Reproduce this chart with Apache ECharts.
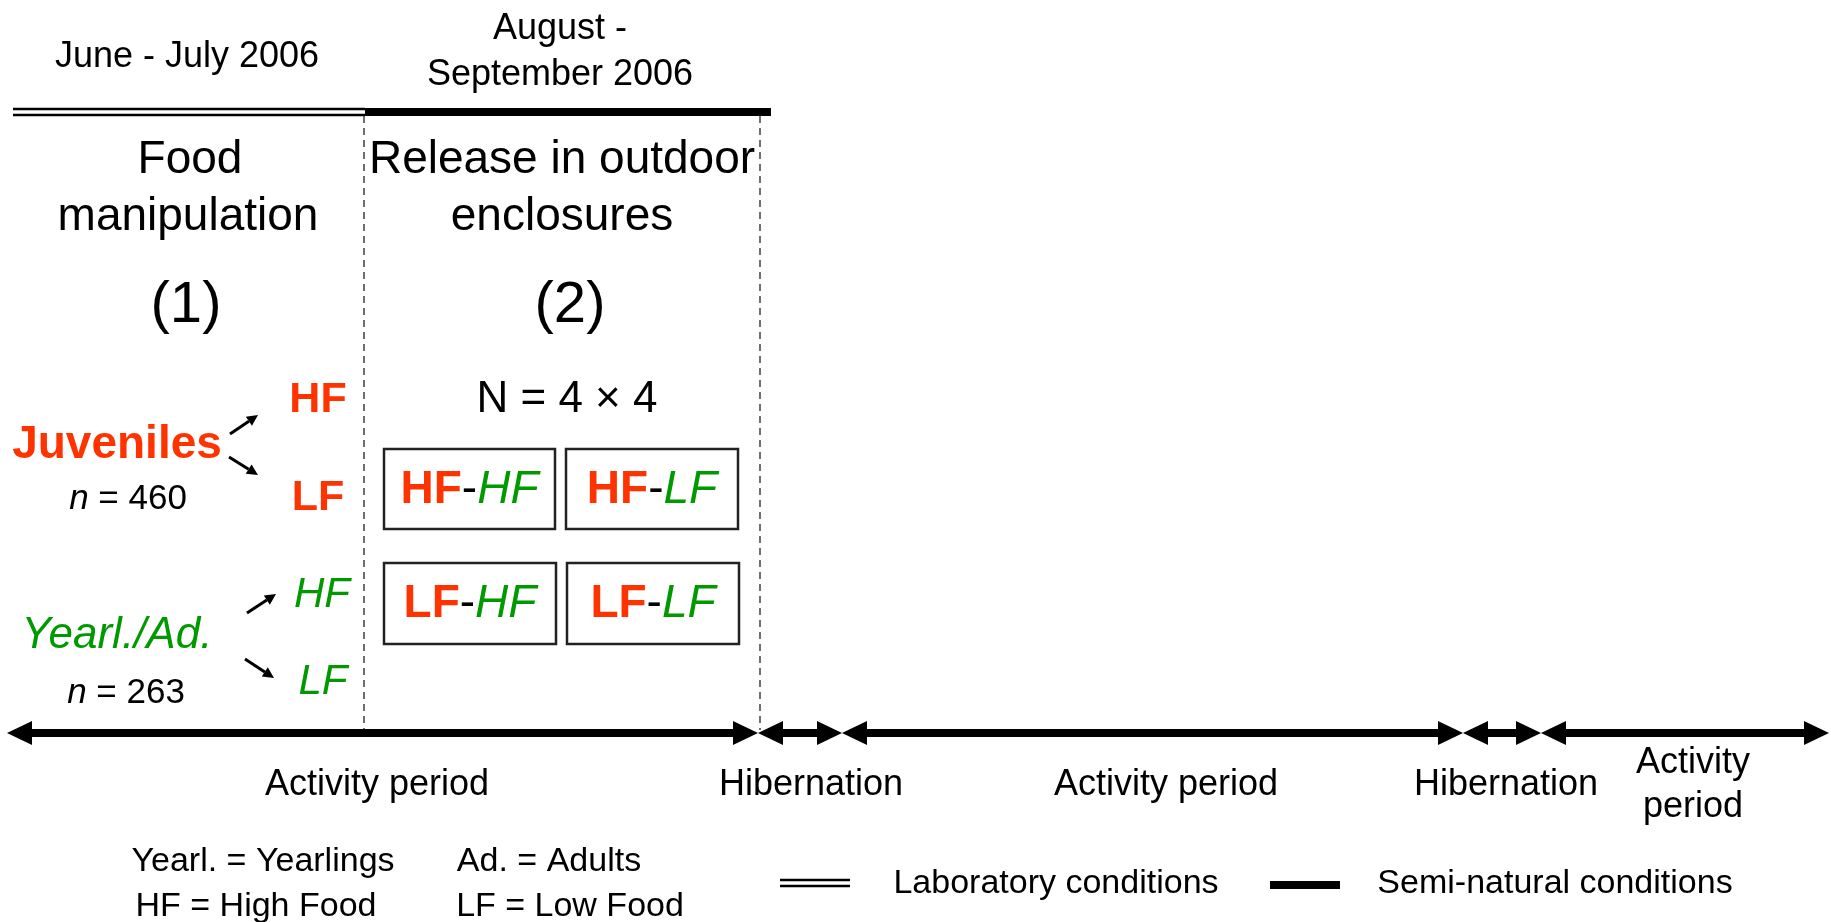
<!DOCTYPE html>
<html>
<head>
<meta charset="utf-8">
<title>Experimental design timeline</title>
<script src="https://cdn.jsdelivr.net/npm/echarts@6/dist/echarts.min.js"></script>
<style>
  html, body { margin: 0; padding: 0; background: #fff; }
  #chart { width: 1831px; height: 922px; }
</style>
</head>
<body>
<div id="chart"></div>
<script>
// diagram space: x 0..1831, y 0..922 (y grows downwards)
var FONT = "'Liberation Sans', Arial, Helvetica, sans-serif";
var RED = '#ff3300', GREEN = '#009a00', INK = '#000';

// text entries: [x centre, baseline, text]
var headings = [
  [187, 67, 'June - July 2006'],
  [560, 39, 'August -'],
  [560, 85, 'September 2006']
];
var stageTitles = [
  [190, 173, 'Food'], [188, 230, 'manipulation'],
  [562, 173, 'Release in outdoor'], [562, 230, 'enclosures']
];
var stageNumbers = [[186, 322, '(1)'], [570, 322, '(2)']];
var groups = [[117, 458, 'Juveniles']];
var adultGroups = [[117, 648, 'Yearl./Ad.']];
var groupCounts = [[128, 509, '{i|n} = 460'], [126, 703, '{i|n} = 263']];
var juvDiets = [[318, 412, 'HF'], [318, 510, 'LF']];
var adultDiets = [[322, 607, 'HF'], [323, 694, 'LF']];
var designLabel = [[567, 412, 'N = 4 \u00d7 4']];

// treatment boxes: [x0, y0, x1, y1], first and second diet
var boxes = [[384, 449, 555, 529], [566, 449, 738, 529], [384, 563, 556, 644], [567, 563, 739, 644]];
var firstDiet = ['HF', 'HF', 'LF', 'LF'];
var secondDiet = ['HF', 'LF', 'HF', 'LF'];

// time line
var timelineY = 733;
var timelineBreaks = [7, 758, 842, 1463, 1541, 1829];
var periodLabels = ['Activity period', 'Hibernation', 'Activity period', 'Hibernation', 'Activity\nperiod'];
var periodLabelX = [377, 811, 1166, 1506, 1693];
var periodBaseline = 795;

// condition bars above the stages + legend swatches: [x0, x1, y, kind]
var conditionBars = [[13, 365, 112, 'lab'], [365, 771, 112, 'semi'], [780, 850, 883, 'lab'], [1270, 1340, 885, 'semi']];
var dividerX = [364, 760];
var dividerSpan = [116, 730];

// small branching arrows: [x0, y0, x1, y1]
var pointers = [[230, 434, 258, 415], [229, 457, 258, 475], [247, 613, 276, 594], [245, 659, 274, 678]];

var legendTexts = [
  [263, 871, 'Yearl. = Yearlings'], [549, 871, 'Ad. = Adults'],
  [256, 916, 'HF = High Food'], [570, 916, 'LF = Low Food'],
  [1056, 893, 'Laboratory conditions'], [1555, 893, 'Semi-natural conditions']
];

function fnt(size, weight, italic, color) {
  return { fontSize: size, fontFamily: FONT, fontWeight: weight || 'normal',
           fontStyle: italic ? 'italic' : 'normal', fill: color || INK };
}

var textStyles = {
  head: fnt(36), title: fnt(46), paren: fnt(58), design: fnt(44),
  juv: fnt(46, 'bold', false, RED), adult: fnt(44, 'normal', true, GREEN),
  redDiet: fnt(43, 'bold', false, RED), greenDiet: fnt(42, 'normal', true, GREEN),
  count: fnt(35), box: fnt(46), period: fnt(36), legend: fnt(34)
};

function tag(list, kind) { return list.map(function (t) { return [t[0], t[1], t[2], kind]; }); }

var allTexts = [].concat(
  tag(headings, 'head'), tag(stageTitles, 'title'), tag(stageNumbers, 'paren'),
  tag(groups, 'juv'), tag(adultGroups, 'adult'), tag(groupCounts, 'count'),
  tag(juvDiets, 'redDiet'), tag(adultDiets, 'greenDiet'), tag(designLabel, 'design'),
  tag(periodLabels.map(function (l, i) { return [periodLabelX[i], periodBaseline, l]; }), 'period'),
  tag(legendTexts, 'legend')
);

var richTokens = {
  i: fnt(35, 'normal', true),
  r: fnt(46, 'bold', false, RED),
  k: fnt(46),
  g: fnt(46, 'normal', true, GREEN)
};

function arrow(a, b, lw, hl, hw, headA, headB) {
  var dx = b[0] - a[0], dy = b[1] - a[1];
  var len = Math.sqrt(dx * dx + dy * dy), ux = dx / len, uy = dy / len;
  var px = -uy, py = ux;
  var s = headA ? [a[0] + ux * hl, a[1] + uy * hl] : a;
  var e = headB ? [b[0] - ux * hl, b[1] - uy * hl] : b;
  var kids = [{ type: 'line', shape: { x1: s[0], y1: s[1], x2: e[0], y2: e[1] },
                style: { stroke: INK, lineWidth: lw } }];
  function head(tip, back) {
    kids.push({ type: 'polygon', shape: { points: [tip,
      [back[0] + px * hw, back[1] + py * hw], [back[0] - px * hw, back[1] - py * hw]] },
      style: { fill: INK } });
  }
  if (headA) head(a, s);
  if (headB) head(b, e);
  return kids;
}

var chart = echarts.init(document.getElementById('chart'));

chart.setOption({
  animation: false,
  grid: { left: 0, right: 0, top: 0, bottom: 0 },
  xAxis: { type: 'value', min: 0, max: 1831, show: false },
  yAxis: { type: 'value', min: 0, max: 922, inverse: true, show: false },
  series: [
    {
      name: 'conditions', type: 'custom',
      data: conditionBars.map(function (b) { return [b[0], b[2], b[1], b[2]]; }),
      renderItem: function (params, api) {
        var p0 = api.coord([api.value(0), api.value(1)]);
        var p1 = api.coord([api.value(2), api.value(3)]);
        if (conditionBars[params.dataIndex][3] === 'semi') {
          return { type: 'line', shape: { x1: p0[0], y1: p0[1], x2: p1[0], y2: p1[1] },
                   style: { stroke: INK, lineWidth: 8 } };
        }
        return { type: 'group', children: [-3, 3].map(function (o) {
          return { type: 'line', shape: { x1: p0[0], y1: p0[1] + o, x2: p1[0], y2: p1[1] + o },
                   style: { stroke: INK, lineWidth: 2.5 } };
        }) };
      }
    },
    {
      name: 'dividers', type: 'custom',
      data: dividerX.map(function (x) { return [x, dividerSpan[0], x, dividerSpan[1]]; }),
      renderItem: function (params, api) {
        var p0 = api.coord([api.value(0), api.value(1)]);
        var p1 = api.coord([api.value(2), api.value(3)]);
        return { type: 'line', shape: { x1: p0[0], y1: p0[1], x2: p1[0], y2: p1[1] },
                 style: { stroke: '#4a4a4a', lineWidth: 1.6, lineDash: [7, 5] } };
      }
    },
    {
      name: 'timeline', type: 'custom',
      data: timelineBreaks.slice(0, -1).map(function (x, i) {
        return [x, timelineY, timelineBreaks[i + 1], timelineY];
      }),
      renderItem: function (params, api) {
        var p0 = api.coord([api.value(0), api.value(1)]);
        var p1 = api.coord([api.value(2), api.value(3)]);
        return { type: 'group', children: arrow(p0, p1, 8, 25, 12, true, true) };
      }
    },
    {
      name: 'pointers', type: 'custom',
      data: pointers,
      renderItem: function (params, api) {
        var p0 = api.coord([api.value(0), api.value(1)]);
        var p1 = api.coord([api.value(2), api.value(3)]);
        return { type: 'group', children: arrow(p0, p1, 3, 11, 5.5, false, true) };
      }
    },
    {
      name: 'treatments', type: 'custom',
      data: boxes,
      renderItem: function (params, api) {
        var p0 = api.coord([api.value(0), api.value(1)]);
        var p1 = api.coord([api.value(2), api.value(3)]);
        var i = params.dataIndex, st = textStyles.box;
        return { type: 'group', children: [
          { type: 'rect', shape: { x: p0[0], y: p0[1], width: p1[0] - p0[0], height: p1[1] - p0[1] },
            style: { fill: 'none', stroke: '#222', lineWidth: 2.5 } },
          { type: 'text', x: (p0[0] + p1[0]) / 2, y: (p0[1] + p1[1]) / 2 + 1,
            style: Object.assign({}, st, {
              text: '{r|' + firstDiet[i] + '}{k|-}{g|' + secondDiet[i] + '}',
              rich: richTokens, align: 'center', verticalAlign: 'middle' }) }
        ] };
      }
    },
    {
      name: 'texts', type: 'custom',
      data: allTexts.map(function (t) { return [t[0], t[1]]; }),
      renderItem: function (params, api) {
        var t = allTexts[params.dataIndex], st = textStyles[t[3]];
        var p = api.coord([api.value(0), api.value(1)]);
        return { type: 'text', x: p[0], y: p[1] - 0.28 * st.fontSize,
                 style: Object.assign({}, st, { text: t[2], rich: richTokens,
                   align: 'center', verticalAlign: 'middle', lineHeight: 44 }) };
      }
    }
  ]
});
</script>
</body>
</html>
